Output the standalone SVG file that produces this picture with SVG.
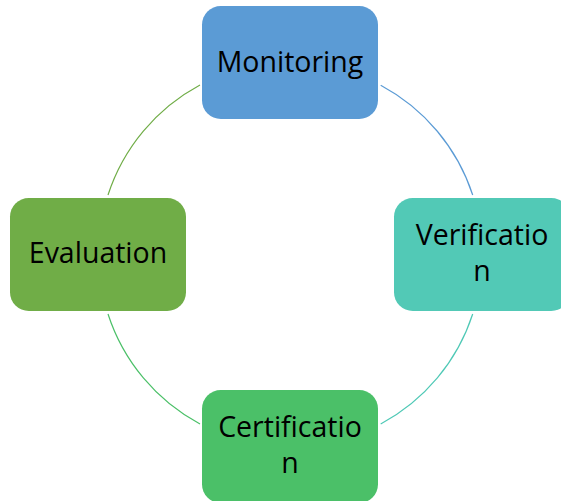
<svg xmlns="http://www.w3.org/2000/svg" width="561" height="501" viewBox="0 0 561 501">
<style>
.box{stroke:none}
.lbl{font-family:"Open Sans","Noto Sans",sans-serif;font-size:28.5px;fill:#000;text-anchor:middle}
.arc{fill:none;stroke-width:1.2}
</style>
<rect width="561" height="501" fill="#fff"/>
<g id="connectors">
<path class="arc" stroke="#5B9BD5" d="M380.7,85.3 A192,192 0 0 1 472.7,195"/>
<path class="arc" stroke="#4FC9B6" d="M472.7,314 A192,192 0 0 1 380.7,424"/>
<path class="arc" stroke="#4BC068" d="M200,424 A192,192 0 0 1 108,314"/>
<path class="arc" stroke="#70AD47" d="M108,195 A192,192 0 0 1 200,85"/>
</g>
<g id="monitoring">
<rect class="box" x="202" y="6" width="176" height="113" rx="18.8" fill="#5B9BD5"/>
<text class="lbl" x="290" y="72">Monitoring</text>
</g>
<g id="verification">
<rect class="box" x="394" y="198" width="176" height="113" rx="18.8" fill="#52C9B6"/>
<text class="lbl" x="482" y="245">Verificatio</text>
<text class="lbl" x="482" y="281">n</text>
</g>
<g id="certification">
<rect class="box" x="202" y="390" width="176" height="113" rx="18.8" fill="#4BC068"/>
<text class="lbl" x="290" y="437">Certificatio</text>
<text class="lbl" x="290" y="473">n</text>
</g>
<g id="evaluation">
<rect class="box" x="10" y="198" width="176" height="113" rx="18.8" fill="#70AD47"/>
<text class="lbl" x="98" y="263">Evaluation</text>
</g>
</svg>
